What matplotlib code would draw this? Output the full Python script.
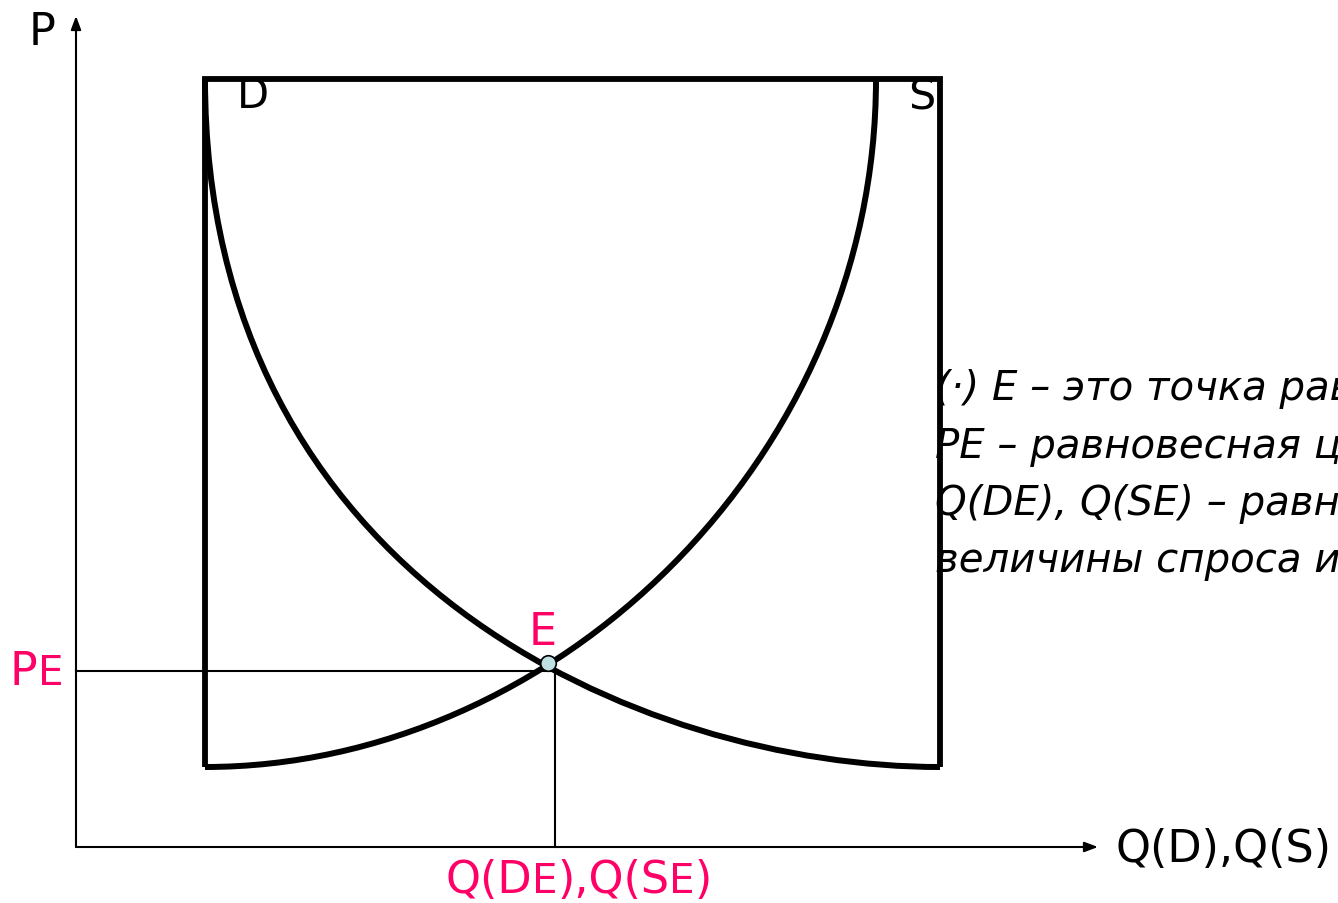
import matplotlib
matplotlib.use("Agg")
import matplotlib.pyplot as plt
from matplotlib.path import Path
from matplotlib.patches import PathPatch, FancyArrowPatch, ArrowStyle

plt.rcParams['font.family'] = ['DejaVu Sans']

# ---------------- data (diagram units, origin = axes origin) ----------------
axis_x_end = 1022          # length of Q axis
axis_y_end = 831           # length of P axis
box_x = [129, 864]         # price/quantity frame (left, right)
box_y = [80, 768]          # (bottom, top)
demand_ctrl = [(129, 768), (129, 268), (564, 80), (864, 80)]   # Bezier control points of D
supply_ctrl = [(129, 80), (479, 80), (800, 388), (800, 768)]   # Bezier control points of S
eq_point = (472, 184)      # equilibrium marker E
pe_level = 176             # equilibrium price P_E
qe_level = 479             # equilibrium quantity Q_E

axis_label_P = "P"
axis_label_Q = "Q(D),Q(S)"
curve_label_D = "D"
curve_label_S = "S"
notes = ["(·) E – это точка равновесия",
         "PE – равновесная цена",
         "Q(DE), Q(SE) – равновесные",
         "величины спроса и предложения"]

MAGENTA = "#FF0066"
DOT = "#BEE0E3"

# ---------------- figure ----------------
fig = plt.figure(figsize=(13.38, 9.04), dpi=100)
ax = fig.add_axes([0, 0, 1, 1])
ax.set_xlim(-76, 1262)
ax.set_ylim(-56, 848)
ax.axis('off')

# axes with arrows
arr = ArrowStyle('-|>', head_length=8, head_width=3)
ax.add_patch(FancyArrowPatch((0, 0), (axis_x_end, 0), arrowstyle=arr, mutation_scale=1,
                             lw=1.5, color='black', shrinkA=0, shrinkB=0, zorder=3))
ax.add_patch(FancyArrowPatch((0, 0), (0, axis_y_end), arrowstyle=arr, mutation_scale=1,
                             lw=1.5, color='black', shrinkA=0, shrinkB=0, zorder=3))

# equilibrium guide lines
ax.plot([0, qe_level], [pe_level, pe_level], color='black', lw=1.5, zorder=3)
ax.plot([qe_level, qe_level], [0, pe_level], color='black', lw=1.5, zorder=3)

# frame
ax.plot([box_x[0], box_x[0], box_x[1], box_x[1]],
        [box_y[0], box_y[1], box_y[1], box_y[0]],
        color='black', lw=4.2, solid_joinstyle='miter', solid_capstyle='butt', zorder=5)

# curves
codes = [Path.MOVETO, Path.CURVE4, Path.CURVE4, Path.CURVE4]
for ctrl in (demand_ctrl, supply_ctrl):
    ax.add_patch(PathPatch(Path(ctrl, codes), facecolor='none', edgecolor='black',
                           lw=4.3, capstyle='butt', zorder=5))

# equilibrium point
ax.plot([eq_point[0]], [eq_point[1]], 'o', ms=11.2, mfc=DOT, mec='black', mew=1.2, zorder=7)

# ---------------- texts ----------------
ax.text(-47, 803, axis_label_P, fontsize=32, ha='left', va='baseline', zorder=2)
ax.text(1039, -14, axis_label_Q, fontsize=32, ha='left', va='baseline', zorder=2)
ax.text(161, 740, curve_label_D, fontsize=30, ha='left', va='baseline', zorder=2)
ax.text(832, 739, curve_label_S, fontsize=31, ha='left', va='baseline', zorder=2)
ax.text(453, 203, "E", fontsize=32, color=MAGENTA, ha='left', va='baseline', zorder=2)

renderer = fig.canvas.get_renderer()


def pieces(x, y, parts, color):
    """Draw consecutive text pieces (text, fontsize) on one baseline."""
    inv = ax.transData.inverted()
    for s, fs in parts:
        t = ax.text(x, y, s, fontsize=fs, color=color, ha='left', va='baseline', zorder=2)
        bb = t.get_window_extent(renderer)
        x = inv.transform((bb.x1, bb.y0))[0]


pieces(-66, 163, [("P", 33), ("E", 29)], MAGENTA)
pieces(369, -45, [("Q(D", 32), ("E", 29), ("),Q(S", 32), ("E", 29), (")", 32)], MAGENTA)

for line, yb in zip(notes, [448, 390, 333, 276]):
    ax.text(859, yb, line, fontsize=29, style='italic', ha='left', va='baseline',
            zorder=2, clip_on=False)

fig.savefig("out.png", dpi=100)
